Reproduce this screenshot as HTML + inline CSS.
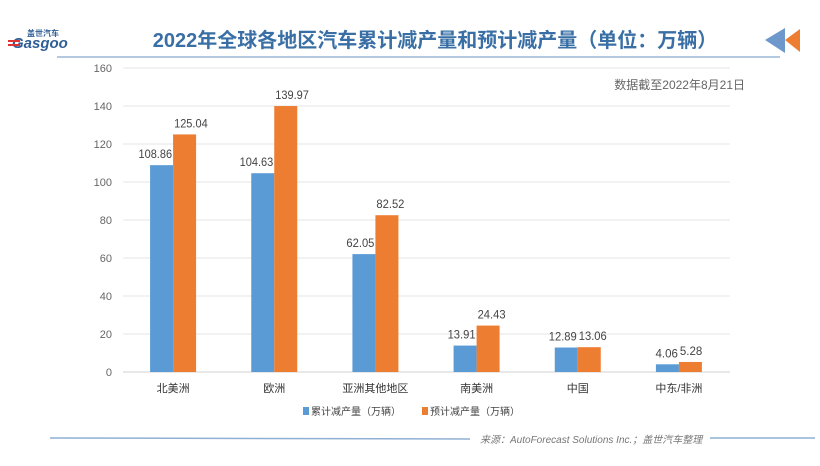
<!DOCTYPE html>
<html><head><meta charset="utf-8">
<style>
body{margin:0;width:820px;height:461px;background:#fff;overflow:hidden;font-family:"Liberation Sans","Noto Sans CJK SC",sans-serif;}
svg text{font-family:"Liberation Sans","Noto Sans CJK SC",sans-serif;}
</style></head><body>
<svg width="820" height="461">
<g>
<text x="27" y="36" font-size="8" fill="#2f5e97" font-weight="bold">盖世汽车</text>
<text x="12" y="48" font-size="15" fill="#2f5e97" font-style="italic" font-weight="bold">Gasgoo</text>
<rect x="8" y="40" width="12" height="2" fill="#d33"/>
<rect x="8" y="44" width="12" height="2" fill="#d33"/>
</g>
<text x="435" y="47" text-anchor="middle" font-size="20" font-weight="bold" fill="#3a6fa5">2022年全球各地区汽车累计减产量和预计减产量（单位：万辆）</text>
<line x1="57" y1="57" x2="780" y2="57" stroke="#9bb7d6" stroke-width="1.5"/>
<polygon points="785,28 765,40 785,53" fill="#6e98cc"/>
<polygon points="800,29 785,40 800,52" fill="#ed7d31"/>
<text x="745" y="89" text-anchor="end" font-size="12" fill="#666">数据截至2022年8月21日</text>
<g id="grid"></g><g id="bars"></g><g id="xl"></g>
<g>
<rect x="303" y="407" width="6" height="8" fill="#5b9bd5"/>
<text x="311" y="415" font-size="10" fill="#444">累计减产量（万辆）</text>
<rect x="422" y="407" width="6" height="8" fill="#ed7d31"/>
<text x="430" y="415" font-size="10" fill="#444">预计减产量（万辆）</text>
</g>
<line x1="50" y1="438" x2="470" y2="439" stroke="#8fb0d3" stroke-width="1.5"/>
<line x1="710" y1="438" x2="815" y2="438" stroke="#8fb0d3" stroke-width="1.5"/>
<text x="480" y="443" font-size="10" fill="#777" font-style="italic">来源：AutoForecast Solutions Inc.；盖世汽车整理</text>
</svg>
<script>
const categories=["北美洲","欧洲","亚洲其他地区","南美洲","中国","中东/非洲"];
const cumulative=[108.86,104.63,62.05,13.91,12.89,4.06];
const projected=[125.04,139.97,82.52,24.43,13.06,5.28];
const ticks=[0,20,40,60,80,100,120,140,160];
const NS="http://www.w3.org/2000/svg";
const x0=123,x1=730,yb=372,yt=68;
const y=v=>yb-(v/160)*(yb-yt);
const bw=(x1-x0)/categories.length;
const cx=i=>x0+bw*(i+0.5)-0.5;
function mk(t,a,p){const e=document.createElementNS(NS,t);for(const k in a)e.setAttribute(k,a[k]);p.appendChild(e);return e;}
const g=document.getElementById('grid'),b=document.getElementById('bars'),xl=document.getElementById('xl');
ticks.forEach(t=>{
const l=mk('line',{x1:x0,x2:x1,y1:y(t),y2:y(t),stroke:t?'#e4e4e4':'#d0d0d0'},g);


const tx=mk('text',{x:112,y:y(t)+4,'text-anchor':'end','font-size':11,fill:'#666'},g);tx.textContent=t;


});
categories.forEach((c,i)=>{
const w=23;
[[cumulative[i],cx(i)-w,'#5b9bd5','bar-cumulative','end',cx(i)-1],[projected[i],cx(i),'#ed7d31','bar-projected','start',cx(i)+1]].forEach(([v,x,col,n,anc,lx])=>{
const r=mk('rect',{x:x,y:y(v),width:w,height:yb-y(v),fill:col},b);


const s=v.toFixed(2);
const t=mk('text',{x:lx,y:y(v)-7,'text-anchor':anc,'font-size':12,fill:'#444',textLength:s.length*5.6,lengthAdjust:'spacingAndGlyphs'},b);t.textContent=s;


});
const t=mk('text',{x:cx(i),y:392,'text-anchor':'middle','font-size':11,fill:'#333'},xl);t.textContent=c;


});
</script>
</body></html>
